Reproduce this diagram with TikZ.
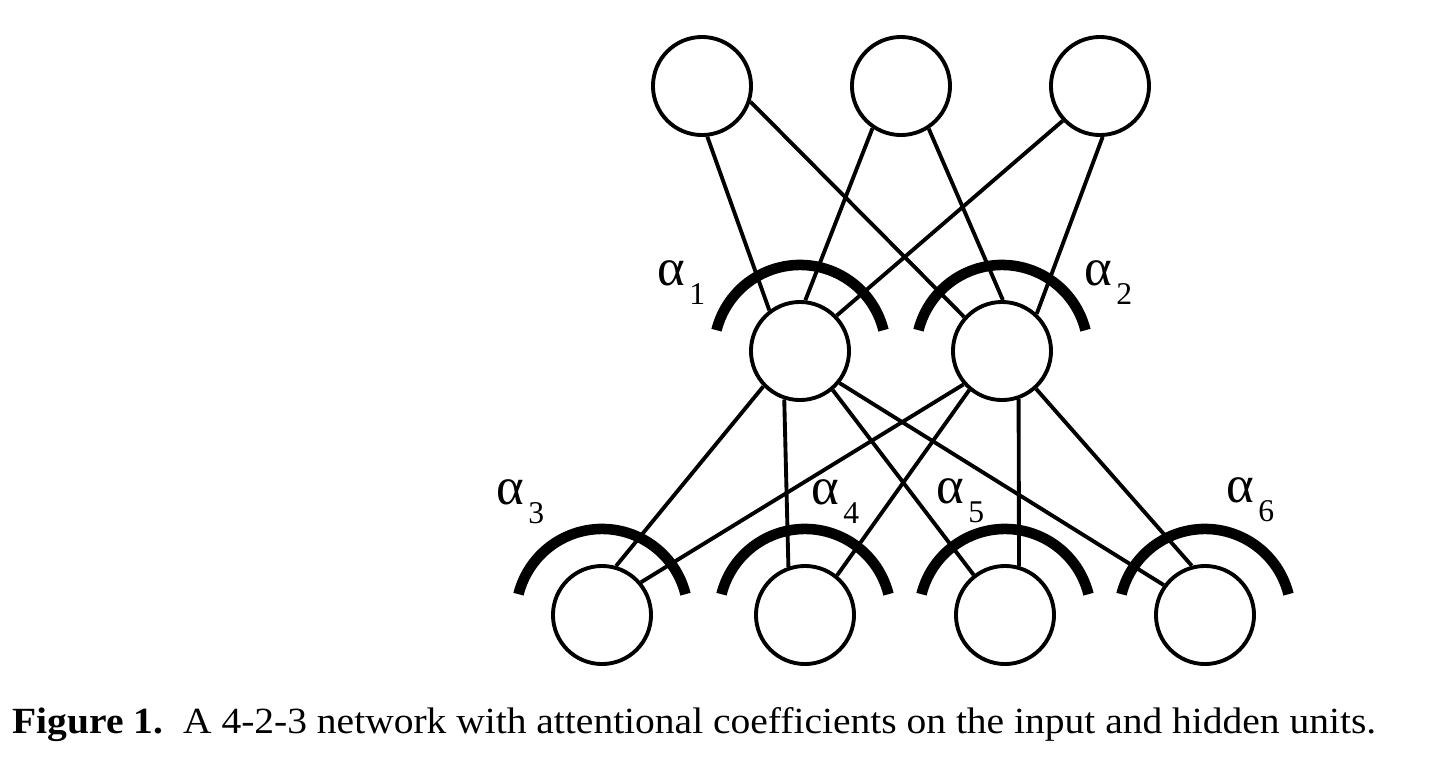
\documentclass[tikz,border=0pt]{standalone}
\usepackage{fontspec}
\setmainfont{Liberation Serif}
\usepackage{tikz}
\newcommand{\coefsub}[1]{\hspace{0.04cm}\raisebox{-0.19cm}{\fontsize{9}{10}\selectfont #1}}

\begin{document}
\begin{tikzpicture}[x=0.01cm, y=-0.01cm,
            unit/.style={circle, draw, line width=1.1pt, minimum size=0.98cm, inner sep=0pt, fill=white},
            link/.style={line width=1.1pt},
            attn/.style={line width=3pt},
            coef/.style={inner sep=0pt, anchor=base west, font=\fontsize{15}{17}\selectfont}]
            \useasboundingbox (0,0) rectangle (1456,778);

            % output units
            \node[unit] (t1) at (702,86) {};
            \node[unit] (t2) at (901,86) {};
            \node[unit] (t3) at (1100,86) {};
            % hidden units
            \node[unit] (h1) at (800,351) {};
            \node[unit] (h2) at (1002,351) {};
            % input units
            \node[unit] (b1) at (602,615) {};
            \node[unit] (b2) at (805,615) {};
            \node[unit] (b3) at (1005,615) {};
            \node[unit] (b4) at (1205,615) {};

            % hidden to output
            \draw[link] (t1.-84) -- (h1.127);
            \draw[link] (t1.-18) -- (h2.138);
            \draw[link] (t2.-124) -- (h1.84);
            \draw[link] (t2.-57) -- (h2.89);
            \draw[link] (t3.-137) -- (h1.44);
            \draw[link] (t3.-87) -- (h2.47);
            % input to hidden
            \draw[link] (h1.-136) -- (b1.74);
            \draw[link] (h1.-108) -- (b2.109);
            \draw[link] (h1.-50) -- (b3.128);
            \draw[link] (h1.-39) -- (b4.144);
            \draw[link] (h2.-139) -- (b1.40);
            \draw[link] (h2.-130) -- (b2.51);
            \draw[link] (h2.-71) -- (b3.74);
            \draw[link] (h2.-48) -- (b4.105);

            % attention arcs
            \draw[attn] (h1.center) ++(14:0.86cm) arc[start angle=14, end angle=166, radius=0.86cm];
            \draw[attn] (h2.center) ++(14:0.86cm) arc[start angle=14, end angle=166, radius=0.86cm];
            \draw[attn] (b1.center) ++(14:0.86cm) arc[start angle=14, end angle=166, radius=0.86cm];
            \draw[attn] (b2.center) ++(14:0.86cm) arc[start angle=14, end angle=166, radius=0.86cm];
            \draw[attn] (b3.center) ++(14:0.86cm) arc[start angle=14, end angle=166, radius=0.86cm];
            \draw[attn] (b4.center) ++(14:0.86cm) arc[start angle=14, end angle=166, radius=0.86cm];

            \node[coef] (a1) at (657,285) {α\coefsub{1}};
            \node[coef] (a2) at (1084,285) {α\coefsub{2}};
            \node[coef] (a3) at (496,504) {α\coefsub{3}};
            \node[coef] (a4) at (811,504) {α\coefsub{4}};
            \node[coef] (a5) at (936,503) {α\coefsub{5}};
            \node[coef] (a6) at (1226,502) {α\coefsub{6}};

            \node[inner sep=0pt, anchor=base west, font=\fontsize{10.5}{12}\selectfont] (cap) at (12,733)
                {\scalebox{1.07}[1]{\textbf{Figure 1.}\ \ A 4-2-3 network with attentional coefficients on the input and hidden units.}};
        \end{tikzpicture}
\end{document}
